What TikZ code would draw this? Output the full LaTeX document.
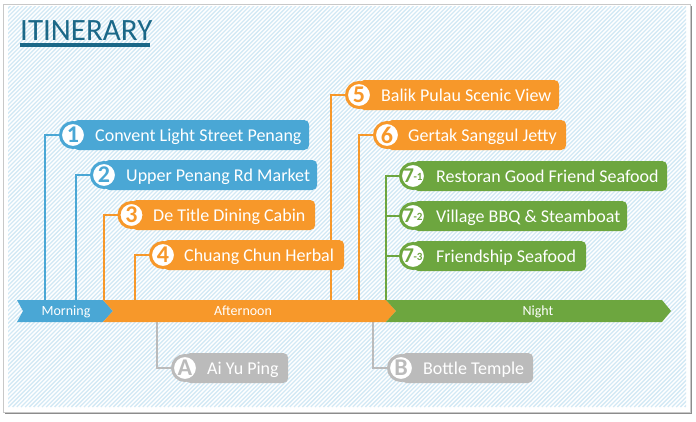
\documentclass[tikz,border=0pt]{standalone}
\usepackage{fontspec}
\setmainfont{Carlito}
\definecolor{cblue}{HTML}{4AA7D5}
\definecolor{corange}{HTML}{F7982A}
\definecolor{cgreen}{HTML}{6DA63F}
\definecolor{cgray}{HTML}{BBBBBB}
\definecolor{ctitle}{HTML}{1B6888}
\definecolor{chatch}{HTML}{D3E9F5}
\definecolor{cframe}{HTML}{C8C8C8}
\pgfdeclarelayer{back}
\pgfdeclarelayer{bg}
\pgfsetlayers{back,bg,main}
\newcommand{\itinstop}[8]{%
  \node[pill, fill=#2, minimum width={#5-#3}] (r#1) at (#3,#4) {};
  \node[lbl] (t#1) at (#6,#4+6) {#8};
  \node[num, draw=#2, text=#2] (c#1) at (#3,#4) {#7};
}
\newcommand{\sevenlbl}[1]{\fontsize{21}{21}\selectfont 7\kern-0.5pt\raisebox{2pt}{\fontsize{11}{11}\selectfont -#1}}
\begin{document}
\begin{tikzpicture}[x=1pt,y=-1pt,
  conn/.style={line width=2pt},
  hatchline/.style={chatch, line width=1.3pt},
  pill/.style={rounded corners=5pt, minimum height=30pt, inner sep=0pt, anchor=west},
  num/.style={circle, fill=white, line width=3pt, minimum size=25pt, inner sep=0pt,
    font=\fontsize{24}{24}\selectfont\bfseries},
  lbl/.style={text=white, inner sep=0pt, anchor=base west, font=\fontsize{18}{18}\selectfont},
  barlbl/.style={text=white, inner sep=0pt, anchor=base, font=\fontsize{14}{14}\selectfont}
]
\useasboundingbox (0,0) rectangle (696,421);
\begin{pgfonlayer}{back}
  \fill[black!45] (5,6) rectangle (692,414);
  \filldraw[fill=white, draw=cframe, line width=1pt] (3,4) rectangle (690,412);
  \begin{scope}
    \clip (8,6) rectangle (686,407);
    \foreach \i in {-96,...,164} {
      \draw[hatchline] (\i*4.2,407) -- (\i*4.2+401,6);
    }
  \end{scope}
\end{pgfonlayer}

% title
\node[anchor=base west, inner sep=0pt, text=ctitle, font=\fontsize{31}{31}\selectfont] (title) at (20,40) {ITINERARY};
\draw[ctitle, line width=3.5pt] (20,45) -- (150,45);

% timeline bar
\fill[cblue] (17,300) -- (103,300) -- (113,311) -- (103,322) -- (17,322) -- (23,311) -- cycle;
\fill[corange] (103,300) -- (386,300) -- (396,311) -- (386,322) -- (103,322) -- (113,311) -- cycle;
\fill[cgreen] (386,300) -- (662,300) -- (671,311) -- (662,322) -- (386,322) -- (396,311) -- cycle;
\node[barlbl] (morning) at (66,315) {Morning};
\node[barlbl] (afternoon) at (243,315) {Afternoon};
\node[barlbl] (night) at (538,315) {Night};

% bar anchor points
\coordinate (b1) at (45,300);
\coordinate (b2) at (76,300);
\coordinate (b3) at (104,300);
\coordinate (b4) at (135,300);
\coordinate (b5) at (331,300);
\coordinate (b6) at (359,300);
\coordinate (b7) at (386,300);
\coordinate (bA) at (157,322);
\coordinate (bB) at (373,322);

% stops
\itinstop{1}{cblue}{73}{135}{309}{95}{1}{Convent Light Street Penang}
\itinstop{2}{cblue}{104}{175}{317}{126}{2}{Upper Penang Rd Market}
\itinstop{3}{corange}{131.5}{215}{315}{153}{3}{De Title Dining Cabin}
\itinstop{4}{corange}{163}{255}{344}{184}{4}{Chuang Chun Herbal}
\itinstop{5}{corange}{359}{95}{559}{381}{5}{Balik Pulau Scenic View}
\itinstop{6}{corange}{387}{135}{566}{408}{6}{Gertak Sanggul Jetty}
\itinstop{71}{cgreen}{413}{176}{667}{436}{\sevenlbl{1}}{Restoran Good Friend Seafood}
\itinstop{72}{cgreen}{413}{216}{627}{436}{\sevenlbl{2}}{Village BBQ \& Steamboat}
\itinstop{73}{cgreen}{413}{256}{586}{436}{\sevenlbl{3}}{Friendship Seafood}
\itinstop{A}{cgray}{185}{368}{288}{207}{A}{Ai Yu Ping}
\itinstop{B}{cgray}{401}{368}{533}{423}{B}{Bottle Temple}

% connectors
\begin{pgfonlayer}{bg}
  \draw[conn, cblue] (b1) |- (c1.west);
  \draw[conn, cblue] (b2) |- (c2.west);
  \draw[conn, corange] (b3) |- (c3.west);
  \draw[conn, corange] (b4) |- (c4.west);
  \draw[conn, corange] (b5) |- (c5.west);
  \draw[conn, corange] (b6) |- (c6.west);
  \draw[conn, cgreen] (b7) |- (c71.west);
  \draw[conn, cgreen] (b7) |- (c72.west);
  \draw[conn, cgreen] (b7) |- (c73.west);
  \draw[conn, cgray] (bA) |- (cA.west);
  \draw[conn, cgray] (bB) |- (cB.west);
\end{pgfonlayer}
\end{tikzpicture}
\end{document}
